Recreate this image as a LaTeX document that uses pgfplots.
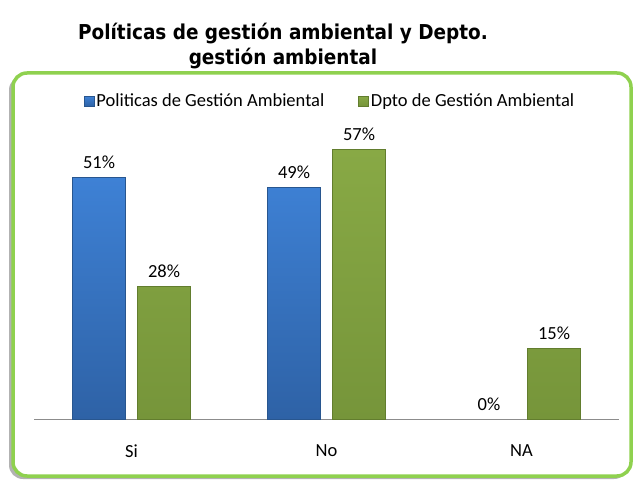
\documentclass[border=0pt]{standalone}
\usepackage{pgfplots}
\pgfplotsset{compat=1.18}
\usepackage{fontspec}
\setmainfont{Carlito}
\newfontfamily\titlefont{DejaVu Sans Condensed}
\definecolor{bluetop}{HTML}{3E81D5}
\definecolor{bluebot}{HTML}{2E62A6}
\definecolor{blueedge}{HTML}{28568F}
\definecolor{greentop}{HTML}{88A945}
\definecolor{greenbot}{HTML}{76953A}
\definecolor{greenedge}{HTML}{627D2E}
\definecolor{framegreen}{HTML}{8FD14F}
\newcommand\lblfont{\fontsize{18.5}{22}\selectfont}
\begin{document}
\begin{tikzpicture}[x=1pt,y=1pt]
\useasboundingbox (0,0) rectangle (634,480);
\fill[black!30, rounded corners=14] (9,1) rectangle (628,404);
\draw[framegreen, line width=3.5, rounded corners=14, fill=white] (13,4) rectangle (631,407);
\node[align=center, font=\titlefont\bfseries\fontsize{20.5}{25}\selectfont] at (283,433.5) {Políticas de gestión ambiental y Depto.\\gestión ambiental};
\begin{axis}[
  at={(34pt,61pt)}, anchor=south west,
  scale only axis, width=585pt, height=283.8pt,
  xmin=-0.5, xmax=2.5, ymin=0, ymax=60,
  ybar, bar width=53pt,
  axis x line*=bottom, axis y line=none,
  x axis line style={draw=black!45, line width=0.8pt},
  xtick={0,1,2}, xticklabels={Si,No,NA},
  major tick length=0pt,
  xticklabel style={font=\lblfont, yshift=-22pt},
  clip=false,
  /pgf/number format/assume math mode=true,
  nodes near coords={\pgfmathprintnumber{\pgfplotspointmeta}\%},
  point meta=y,
  nodes near coords style={font=\lblfont, yshift=5pt},
  legend style={at={(0.506,1.12)}, anchor=center, draw=none, fill=none, font=\lblfont, legend columns=2,
    /tikz/every even column/.append style={column sep=32pt}},
  legend image code/.code={\fill[#1] (0pt,-5pt) rectangle (10pt,5pt);},
]
\addplot[draw=blueedge, line width=0.6pt, top color=bluetop, bottom color=bluebot, bar shift=-32.5pt]
  coordinates {(0,51) (1,49)};
\addlegendentry{Politicas de Gestión Ambiental}
\addplot[draw=greenedge, line width=0.6pt, top color=greentop, bottom color=greenbot, bar shift=32.5pt]
  coordinates {(0,28) (1,57) (2,15)};
\addlegendentry{Dpto de Gestión Ambiental}
\addplot[draw=none, fill=none, bar shift=-32.5pt, forget plot] coordinates {(2,0)};
\end{axis}
\end{tikzpicture}
\end{document}
